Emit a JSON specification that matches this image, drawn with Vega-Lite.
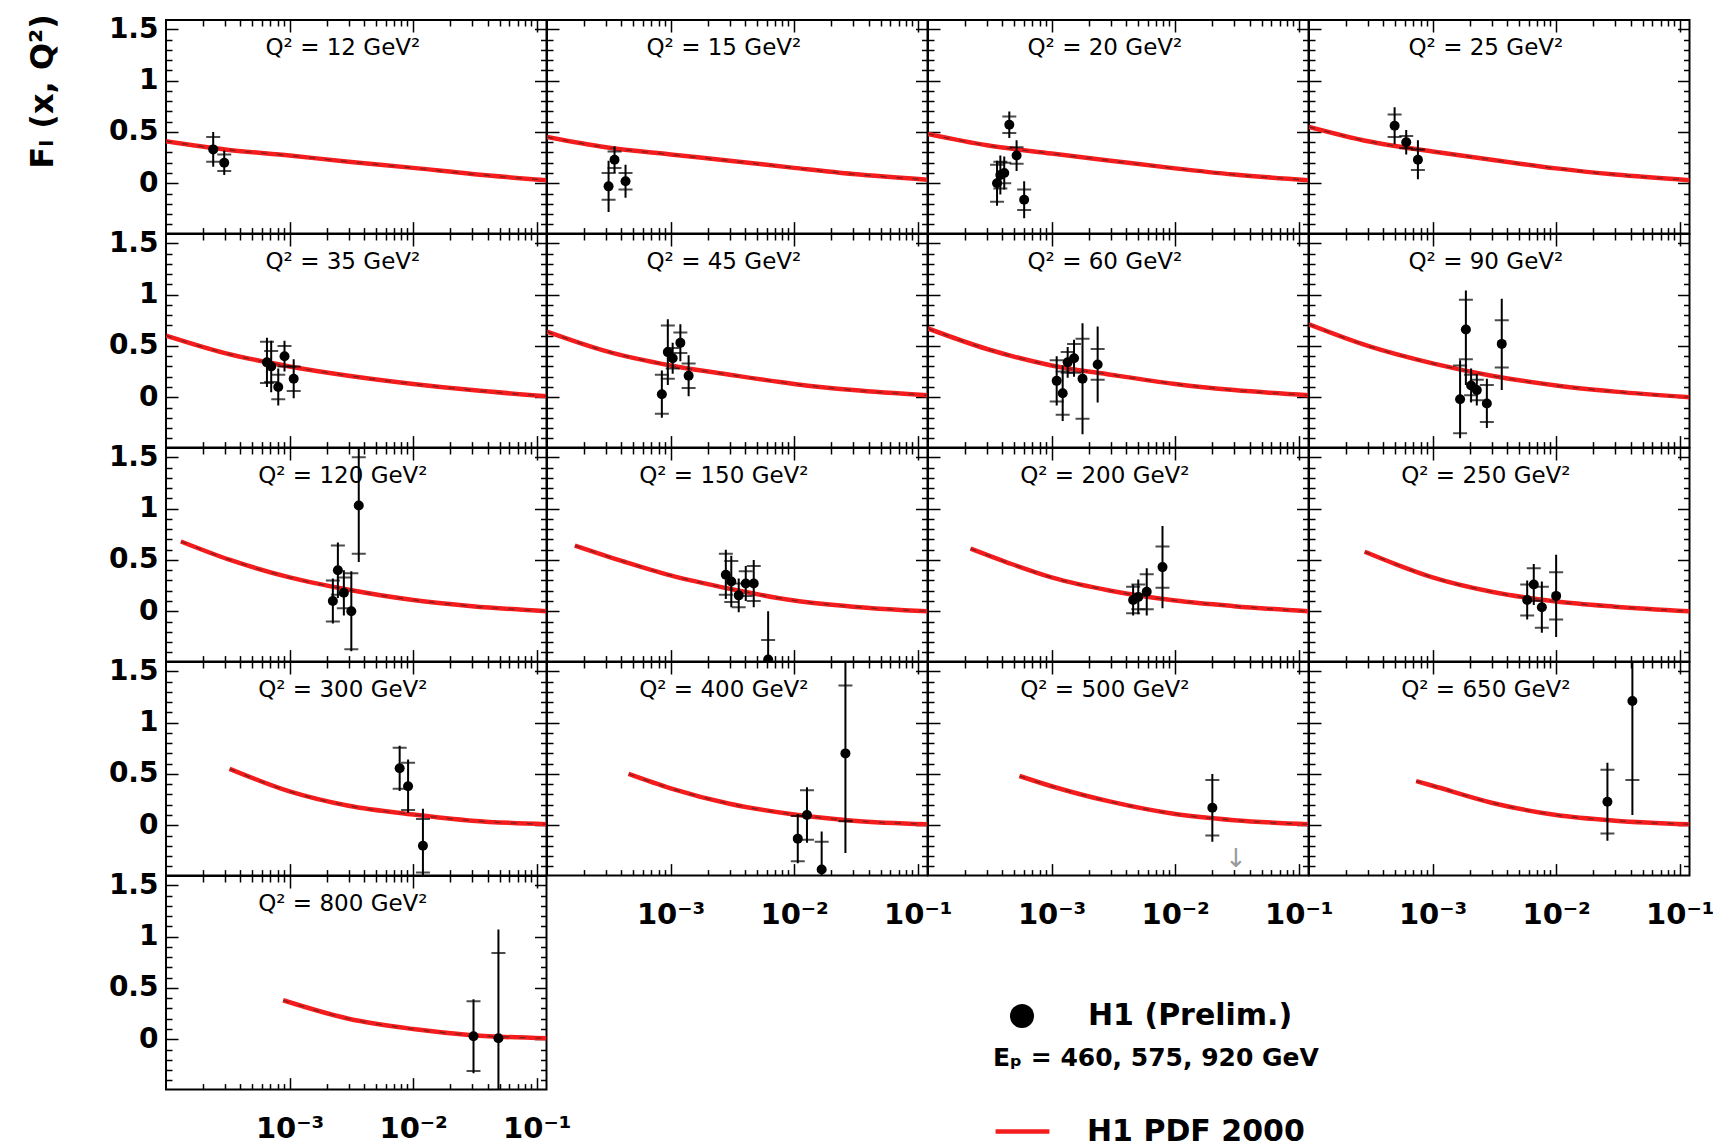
{
  "$schema": "https://vega.github.io/schema/vega-lite/v6.json",
  "background": "white",
  "padding": {"left": 27, "top": 14, "right": 5, "bottom": 0},
  "title": {"text": "Fₗ (x, Q²)", "orient": "left", "anchor": "end", "font": "DejaVu Sans", "fontWeight": "bold", "fontSize": 32, "color": "black", "offset": 47},
  "data": {"values": [
    {"q2":12,"k":"t","label":"Q² = 12 GeV²"},
    {"q2":15,"k":"t","label":"Q² = 15 GeV²"},
    {"q2":20,"k":"t","label":"Q² = 20 GeV²"},
    {"q2":25,"k":"t","label":"Q² = 25 GeV²"},
    {"q2":35,"k":"t","label":"Q² = 35 GeV²"},
    {"q2":45,"k":"t","label":"Q² = 45 GeV²"},
    {"q2":60,"k":"t","label":"Q² = 60 GeV²"},
    {"q2":90,"k":"t","label":"Q² = 90 GeV²"},
    {"q2":120,"k":"t","label":"Q² = 120 GeV²"},
    {"q2":150,"k":"t","label":"Q² = 150 GeV²"},
    {"q2":200,"k":"t","label":"Q² = 200 GeV²"},
    {"q2":250,"k":"t","label":"Q² = 250 GeV²"},
    {"q2":300,"k":"t","label":"Q² = 300 GeV²"},
    {"q2":400,"k":"t","label":"Q² = 400 GeV²"},
    {"q2":500,"k":"t","label":"Q² = 500 GeV²"},
    {"q2":650,"k":"t","label":"Q² = 650 GeV²"},
    {"q2":800,"k":"t","label":"Q² = 800 GeV²"},
    {"q2":500,"k":"a","x":0.031,"y":-0.33},

    {"q2":12,"k":"c","x":0.0001,"y":0.41},{"q2":12,"k":"c","x":0.0003,"y":0.33},{"q2":12,"k":"c","x":0.001,"y":0.27},{"q2":12,"k":"c","x":0.003,"y":0.21},{"q2":12,"k":"c","x":0.01,"y":0.15},{"q2":12,"k":"c","x":0.03,"y":0.09},{"q2":12,"k":"c","x":0.12,"y":0.03},
    {"q2":15,"k":"c","x":0.0001,"y":0.45},{"q2":15,"k":"c","x":0.0003,"y":0.35},{"q2":15,"k":"c","x":0.001,"y":0.28},{"q2":15,"k":"c","x":0.003,"y":0.22},{"q2":15,"k":"c","x":0.01,"y":0.15},{"q2":15,"k":"c","x":0.03,"y":0.09},{"q2":15,"k":"c","x":0.12,"y":0.035},
    {"q2":20,"k":"c","x":0.0001,"y":0.48},{"q2":20,"k":"c","x":0.0003,"y":0.37},{"q2":20,"k":"c","x":0.001,"y":0.29},{"q2":20,"k":"c","x":0.003,"y":0.22},{"q2":20,"k":"c","x":0.01,"y":0.145},{"q2":20,"k":"c","x":0.03,"y":0.085},{"q2":20,"k":"c","x":0.12,"y":0.03},
    {"q2":25,"k":"c","x":0.0001,"y":0.55},{"q2":25,"k":"c","x":0.0003,"y":0.41},{"q2":25,"k":"c","x":0.001,"y":0.31},{"q2":25,"k":"c","x":0.003,"y":0.23},{"q2":25,"k":"c","x":0.01,"y":0.145},{"q2":25,"k":"c","x":0.03,"y":0.085},{"q2":25,"k":"c","x":0.12,"y":0.03},
    {"q2":35,"k":"c","x":0.0001,"y":0.60},{"q2":35,"k":"c","x":0.0003,"y":0.43},{"q2":35,"k":"c","x":0.001,"y":0.30},{"q2":35,"k":"c","x":0.003,"y":0.21},{"q2":35,"k":"c","x":0.01,"y":0.13},{"q2":35,"k":"c","x":0.03,"y":0.07},{"q2":35,"k":"c","x":0.12,"y":0.01},
    {"q2":45,"k":"c","x":0.0001,"y":0.64},{"q2":45,"k":"c","x":0.0003,"y":0.45},{"q2":45,"k":"c","x":0.001,"y":0.31},{"q2":45,"k":"c","x":0.003,"y":0.22},{"q2":45,"k":"c","x":0.01,"y":0.13},{"q2":45,"k":"c","x":0.03,"y":0.07},{"q2":45,"k":"c","x":0.12,"y":0.02},
    {"q2":60,"k":"c","x":0.0001,"y":0.67},{"q2":60,"k":"c","x":0.0003,"y":0.47},{"q2":60,"k":"c","x":0.001,"y":0.31},{"q2":60,"k":"c","x":0.003,"y":0.22},{"q2":60,"k":"c","x":0.01,"y":0.13},{"q2":60,"k":"c","x":0.03,"y":0.07},{"q2":60,"k":"c","x":0.12,"y":0.02},
    {"q2":90,"k":"c","x":0.0001,"y":0.71},{"q2":90,"k":"c","x":0.0003,"y":0.50},{"q2":90,"k":"c","x":0.001,"y":0.33},{"q2":90,"k":"c","x":0.003,"y":0.21},{"q2":90,"k":"c","x":0.01,"y":0.115},{"q2":90,"k":"c","x":0.03,"y":0.055},{"q2":90,"k":"c","x":0.12,"y":0.0},
    {"q2":120,"k":"c","x":0.000132,"y":0.68},{"q2":120,"k":"c","x":0.00033,"y":0.50},{"q2":120,"k":"c","x":0.001,"y":0.33},{"q2":120,"k":"c","x":0.003,"y":0.21},{"q2":120,"k":"c","x":0.01,"y":0.11},{"q2":120,"k":"c","x":0.03,"y":0.05},{"q2":120,"k":"c","x":0.12,"y":0.0},
    {"q2":150,"k":"c","x":0.000168,"y":0.64},{"q2":150,"k":"c","x":0.00043,"y":0.48},{"q2":150,"k":"c","x":0.001,"y":0.35},{"q2":150,"k":"c","x":0.003,"y":0.22},{"q2":150,"k":"c","x":0.01,"y":0.105},{"q2":150,"k":"c","x":0.03,"y":0.045},{"q2":150,"k":"c","x":0.12,"y":0.0},
    {"q2":200,"k":"c","x":0.000221,"y":0.61},{"q2":200,"k":"c","x":0.00045,"y":0.47},{"q2":200,"k":"c","x":0.001,"y":0.33},{"q2":200,"k":"c","x":0.003,"y":0.20},{"q2":200,"k":"c","x":0.01,"y":0.105},{"q2":200,"k":"c","x":0.03,"y":0.05},{"q2":200,"k":"c","x":0.12,"y":0.0},
    {"q2":250,"k":"c","x":0.000282,"y":0.58},{"q2":250,"k":"c","x":0.0005,"y":0.46},{"q2":250,"k":"c","x":0.001,"y":0.33},{"q2":250,"k":"c","x":0.003,"y":0.19},{"q2":250,"k":"c","x":0.01,"y":0.095},{"q2":250,"k":"c","x":0.03,"y":0.045},{"q2":250,"k":"c","x":0.12,"y":0.0},
    {"q2":300,"k":"c","x":0.000327,"y":0.55},{"q2":300,"k":"c","x":0.001,"y":0.33},{"q2":300,"k":"c","x":0.003,"y":0.19},{"q2":300,"k":"c","x":0.01,"y":0.105},{"q2":300,"k":"c","x":0.03,"y":0.045},{"q2":300,"k":"c","x":0.12,"y":0.01},
    {"q2":400,"k":"c","x":0.000457,"y":0.50},{"q2":400,"k":"c","x":0.001,"y":0.36},{"q2":400,"k":"c","x":0.003,"y":0.21},{"q2":400,"k":"c","x":0.01,"y":0.105},{"q2":400,"k":"c","x":0.03,"y":0.045},{"q2":400,"k":"c","x":0.12,"y":0.01},
    {"q2":500,"k":"c","x":0.00055,"y":0.48},{"q2":500,"k":"c","x":0.001,"y":0.38},{"q2":500,"k":"c","x":0.003,"y":0.23},{"q2":500,"k":"c","x":0.01,"y":0.11},{"q2":500,"k":"c","x":0.03,"y":0.05},{"q2":500,"k":"c","x":0.12,"y":0.01},
    {"q2":650,"k":"c","x":0.000736,"y":0.43},{"q2":650,"k":"c","x":0.001,"y":0.385},{"q2":650,"k":"c","x":0.003,"y":0.22},{"q2":650,"k":"c","x":0.01,"y":0.10},{"q2":650,"k":"c","x":0.03,"y":0.045},{"q2":650,"k":"c","x":0.12,"y":0.01},
    {"q2":800,"k":"c","x":0.000887,"y":0.38},{"q2":800,"k":"c","x":0.003,"y":0.20},{"q2":800,"k":"c","x":0.01,"y":0.10},{"q2":800,"k":"c","x":0.03,"y":0.04},{"q2":800,"k":"c","x":0.12,"y":0.01},

    {"q2":12,"k":"p","x":0.000241,"y":0.33,"lo":0.16,"hi":0.50,"slo":0.21,"shi":0.45},
    {"q2":12,"k":"p","x":0.000296,"y":0.20,"lo":0.08,"hi":0.32,"slo":0.12,"shi":0.28},
    {"q2":15,"k":"p","x":0.000315,"y":-0.03,"lo":-0.28,"hi":0.22,"slo":-0.16,"shi":0.10},
    {"q2":15,"k":"p","x":0.000352,"y":0.23,"lo":0.10,"hi":0.36,"slo":0.15,"shi":0.31},
    {"q2":15,"k":"p","x":0.000432,"y":0.02,"lo":-0.14,"hi":0.18,"slo":-0.06,"shi":0.10},
    {"q2":20,"k":"p","x":0.000362,"y":0.0,"lo":-0.22,"hi":0.22,"slo":-0.18,"shi":0.18},
    {"q2":20,"k":"p","x":0.000385,"y":0.08,"lo":-0.11,"hi":0.27,"slo":-0.05,"shi":0.21},
    {"q2":20,"k":"p","x":0.000414,"y":0.10,"lo":-0.06,"hi":0.26,"slo":0.0,"shi":0.20},
    {"q2":20,"k":"p","x":0.000455,"y":0.57,"lo":0.44,"hi":0.70,"slo":0.49,"shi":0.65},
    {"q2":20,"k":"p","x":0.000521,"y":0.27,"lo":0.12,"hi":0.42,"slo":0.19,"shi":0.35},
    {"q2":20,"k":"p","x":0.0006,"y":-0.16,"lo":-0.34,"hi":0.02,"slo":-0.26,"shi":-0.06},
    {"q2":25,"k":"p","x":0.000493,"y":0.56,"lo":0.38,"hi":0.74,"slo":0.45,"shi":0.67},
    {"q2":25,"k":"p","x":0.000612,"y":0.40,"lo":0.28,"hi":0.52,"slo":0.34,"shi":0.46},
    {"q2":25,"k":"p","x":0.000761,"y":0.23,"lo":0.04,"hi":0.42,"slo":0.13,"shi":0.33},
    {"q2":35,"k":"p","x":0.000656,"y":0.34,"lo":0.10,"hi":0.58,"slo":0.14,"shi":0.54},
    {"q2":35,"k":"p","x":0.00071,"y":0.30,"lo":0.05,"hi":0.55,"slo":0.15,"shi":0.45},
    {"q2":35,"k":"p","x":0.00081,"y":0.10,"lo":-0.08,"hi":0.28,"slo":-0.02,"shi":0.22},
    {"q2":35,"k":"p","x":0.00091,"y":0.40,"lo":0.25,"hi":0.55,"slo":0.30,"shi":0.50},
    {"q2":35,"k":"p","x":0.00108,"y":0.18,"lo":-0.01,"hi":0.37,"slo":0.06,"shi":0.30},
    {"q2":45,"k":"p","x":0.00085,"y":0.03,"lo":-0.20,"hi":0.26,"slo":-0.16,"shi":0.22},
    {"q2":45,"k":"p","x":0.00095,"y":0.44,"lo":0.12,"hi":0.76,"slo":0.18,"shi":0.70},
    {"q2":45,"k":"p","x":0.00104,"y":0.38,"lo":0.23,"hi":0.53,"slo":0.28,"shi":0.48},
    {"q2":45,"k":"p","x":0.0012,"y":0.53,"lo":0.35,"hi":0.71,"slo":0.43,"shi":0.63},
    {"q2":45,"k":"p","x":0.0014,"y":0.21,"lo":0.01,"hi":0.41,"slo":0.09,"shi":0.33},
    {"q2":60,"k":"p","x":0.0011,"y":0.16,"lo":-0.08,"hi":0.40,"slo":-0.04,"shi":0.36},
    {"q2":60,"k":"p","x":0.00123,"y":0.04,"lo":-0.23,"hi":0.31,"slo":-0.17,"shi":0.25},
    {"q2":60,"k":"p","x":0.00135,"y":0.34,"lo":0.19,"hi":0.49,"slo":0.24,"shi":0.44},
    {"q2":60,"k":"p","x":0.00152,"y":0.38,"lo":0.20,"hi":0.56,"slo":0.24,"shi":0.52},
    {"q2":60,"k":"p","x":0.00178,"y":0.18,"lo":-0.36,"hi":0.72,"slo":-0.21,"shi":0.57},
    {"q2":60,"k":"p","x":0.00236,"y":0.32,"lo":-0.05,"hi":0.69,"slo":0.17,"shi":0.47},
    {"q2":90,"k":"p","x":0.00167,"y":-0.02,"lo":-0.40,"hi":0.36,"slo":-0.35,"shi":0.31},
    {"q2":90,"k":"p","x":0.00186,"y":0.66,"lo":0.12,"hi":1.04,"slo":0.37,"shi":0.95},
    {"q2":90,"k":"p","x":0.00205,"y":0.115,"lo":-0.05,"hi":0.28,"slo":0.02,"shi":0.22},
    {"q2":90,"k":"p","x":0.00228,"y":0.07,"lo":-0.08,"hi":0.22,"slo":-0.03,"shi":0.17},
    {"q2":90,"k":"p","x":0.00275,"y":-0.06,"lo":-0.30,"hi":0.18,"slo":-0.24,"shi":0.12},
    {"q2":90,"k":"p","x":0.00363,"y":0.52,"lo":0.07,"hi":0.96,"slo":0.29,"shi":0.75},
    {"q2":120,"k":"p","x":0.00224,"y":0.10,"lo":-0.12,"hi":0.32,"slo":-0.10,"shi":0.30},
    {"q2":120,"k":"p","x":0.00246,"y":0.40,"lo":0.13,"hi":0.67,"slo":0.16,"shi":0.64},
    {"q2":120,"k":"p","x":0.00275,"y":0.18,"lo":-0.04,"hi":0.40,"slo":0.03,"shi":0.33},
    {"q2":120,"k":"p","x":0.00316,"y":0.0,"lo":-0.39,"hi":0.39,"slo":-0.37,"shi":0.37},
    {"q2":120,"k":"p","x":0.00363,"y":1.03,"lo":0.48,"hi":1.58,"slo":0.56,"shi":1.50},
    {"q2":150,"k":"p","x":0.0028,"y":0.355,"lo":0.12,"hi":0.60,"slo":0.16,"shi":0.56},
    {"q2":150,"k":"p","x":0.0031,"y":0.29,"lo":0.04,"hi":0.54,"slo":0.09,"shi":0.49},
    {"q2":150,"k":"p","x":0.00356,"y":0.155,"lo":-0.01,"hi":0.32,"slo":0.04,"shi":0.27},
    {"q2":150,"k":"p","x":0.00406,"y":0.27,"lo":0.10,"hi":0.44,"slo":0.15,"shi":0.39},
    {"q2":150,"k":"p","x":0.00471,"y":0.27,"lo":0.04,"hi":0.50,"slo":0.10,"shi":0.44},
    {"q2":150,"k":"p","x":0.00616,"y":-0.47,"lo":-0.94,"hi":0.0,"slo":-0.66,"shi":-0.28},
    {"q2":200,"k":"p","x":0.00457,"y":0.11,"lo":-0.04,"hi":0.26,"slo":-0.02,"shi":0.24},
    {"q2":200,"k":"p","x":0.00503,"y":0.14,"lo":-0.03,"hi":0.31,"slo":0.02,"shi":0.26},
    {"q2":200,"k":"p","x":0.00589,"y":0.19,"lo":-0.04,"hi":0.42,"slo":0.02,"shi":0.36},
    {"q2":200,"k":"p","x":0.0079,"y":0.43,"lo":0.03,"hi":0.83,"slo":0.23,"shi":0.63},
    {"q2":250,"k":"p","x":0.00583,"y":0.11,"lo":-0.08,"hi":0.30,"slo":-0.04,"shi":0.26},
    {"q2":250,"k":"p","x":0.00659,"y":0.26,"lo":0.06,"hi":0.46,"slo":0.10,"shi":0.42},
    {"q2":250,"k":"p","x":0.00766,"y":0.04,"lo":-0.21,"hi":0.29,"slo":-0.16,"shi":0.24},
    {"q2":250,"k":"p","x":0.01,"y":0.15,"lo":-0.25,"hi":0.55,"slo":-0.08,"shi":0.38},
    {"q2":300,"k":"p","x":0.00778,"y":0.555,"lo":0.335,"hi":0.775,"slo":0.355,"shi":0.755},
    {"q2":300,"k":"p","x":0.0091,"y":0.38,"lo":0.12,"hi":0.64,"slo":0.15,"shi":0.61},
    {"q2":300,"k":"p","x":0.012,"y":-0.20,"lo":-0.56,"hi":0.16,"slo":-0.46,"shi":0.06},
    {"q2":400,"k":"p","x":0.0107,"y":-0.13,"lo":-0.37,"hi":0.11,"slo":-0.35,"shi":0.09},
    {"q2":400,"k":"p","x":0.0127,"y":0.10,"lo":-0.17,"hi":0.37,"slo":-0.14,"shi":0.34},
    {"q2":400,"k":"p","x":0.0167,"y":-0.43,"lo":-0.80,"hi":-0.06,"slo":-0.70,"shi":-0.16},
    {"q2":400,"k":"p","x":0.026,"y":0.70,"lo":-0.27,"hi":1.67,"slo":0.04,"shi":1.36},
    {"q2":500,"k":"p","x":0.02,"y":0.17,"lo":-0.16,"hi":0.50,"slo":-0.10,"shi":0.44},
    {"q2":650,"k":"p","x":0.026,"y":0.23,"lo":-0.15,"hi":0.61,"slo":-0.08,"shi":0.54},
    {"q2":650,"k":"p","x":0.0414,"y":1.21,"lo":0.10,"hi":2.3,"slo":0.44,"shi":1.98},
    {"q2":800,"k":"p","x":0.0308,"y":0.03,"lo":-0.33,"hi":0.39,"slo":-0.31,"shi":0.37},
    {"q2":800,"k":"p","x":0.049,"y":0.01,"lo":-1.05,"hi":1.07,"slo":-0.82,"shi":0.84}
  ]},
  "columns": 4,
  "spacing": 0,
  "bounds": "flush",
  "concat": [
    {"width":380.5,"height":213.6,"transform":[{"filter":"datum.q2===12"}],"resolve":{"axis":{"x":"independent","y":"independent"}},"layer":[
      {"transform":[{"filter":"datum.k==='c'"}],"mark":{"type":"line","color":"#f41c1c","strokeWidth":4.5,"interpolate":"monotone","clip":true},
       "encoding":{"x":{"field":"x","type":"quantitative","scale":{"type":"log","domain":[0.0001,0.12],"nice":false},"axis":{"orient":"bottom","title":null,"labels":false,"values":[0.0002,0.0003,0.0004,0.0005,0.0006,0.0007,0.0008,0.0009,0.001,0.002,0.003,0.004,0.005,0.006,0.007,0.008,0.009,0.01,0.02,0.03,0.04,0.05,0.06,0.07,0.08,0.09,0.1],"tickSize":{"condition":{"test":"datum.value == 0.001 || datum.value == 0.01 || datum.value == 0.1","value":-12},"value":-6}}},
        "y":{"field":"y","type":"quantitative","scale":{"domain":[-0.49,1.59],"nice":false,"zero":false},"axis":{"orient":"left","title":null,"values":[-0.4,-0.3,-0.2,-0.1,0,0.1,0.2,0.3,0.4,0.5,0.6,0.7,0.8,0.9,1,1.1,1.2,1.3,1.4,1.5],"tickSize":{"condition":{"test":"datum.value == 0 || datum.value == 0.5 || datum.value == 1 || datum.value == 1.5","value":-12},"value":-6},"labelExpr":"datum.value == 0 ? '0' : datum.value == 0.5 ? '0.5' : datum.value == 1 ? '1' : datum.value == 1.5 ? '1.5' : ''","labelFontSize":28,"labelPadding":20}}}},
      {"transform":[{"filter":"datum.k==='c'"}],"mark":{"type":"line","color":"#222222","strokeWidth":1.2,"strokeDash":[6,10],"opacity":0.6,"interpolate":"monotone","clip":true},
       "encoding":{"x":{"field":"x","type":"quantitative","axis":{"orient":"top","title":null,"labels":false,"values":[0.0002,0.0003,0.0004,0.0005,0.0006,0.0007,0.0008,0.0009,0.001,0.002,0.003,0.004,0.005,0.006,0.007,0.008,0.009,0.01,0.02,0.03,0.04,0.05,0.06,0.07,0.08,0.09,0.1],"tickSize":{"condition":{"test":"datum.value == 0.001 || datum.value == 0.01 || datum.value == 0.1","value":-12},"value":-6}}},
        "y":{"field":"y","type":"quantitative","axis":{"orient":"right","title":null,"labels":false,"values":[-0.4,-0.3,-0.2,-0.1,0,0.1,0.2,0.3,0.4,0.5,0.6,0.7,0.8,0.9,1,1.1,1.2,1.3,1.4,1.5],"tickSize":{"condition":{"test":"datum.value == 0 || datum.value == 0.5 || datum.value == 1 || datum.value == 1.5","value":-12},"value":-6}}}}},
      {"transform":[{"filter":"datum.k==='p'"}],"mark":{"type":"rule","color":"black","strokeWidth":2,"clip":true},"encoding":{"x":{"field":"x","type":"quantitative","axis":null},"y":{"field":"lo","type":"quantitative","axis":null},"y2":{"field":"hi"}}},
      {"transform":[{"filter":"datum.k==='p'"}],"mark":{"type":"tick","orient":"horizontal","color":"black","size":14,"thickness":2,"clip":true},"encoding":{"x":{"field":"x","type":"quantitative","axis":null},"y":{"field":"slo","type":"quantitative","axis":null}}},
      {"transform":[{"filter":"datum.k==='p'"}],"mark":{"type":"tick","orient":"horizontal","color":"black","size":14,"thickness":2,"clip":true},"encoding":{"x":{"field":"x","type":"quantitative","axis":null},"y":{"field":"shi","type":"quantitative","axis":null}}},
      {"transform":[{"filter":"datum.k==='p'"}],"mark":{"type":"circle","size":100,"opacity":1,"color":"black","clip":true},"encoding":{"x":{"field":"x","type":"quantitative","axis":null},"y":{"field":"y","type":"quantitative","axis":null}}},
      {"transform":[{"filter":"datum.k==='t'"}],"mark":{"type":"text","font":"DejaVu Sans","fontSize":23,"color":"black","align":"center","baseline":"alphabetic"},"encoding":{"x":{"datum":0.0027,"type":"quantitative","axis":null},"y":{"datum":1.25,"type":"quantitative","axis":null},"text":{"field":"label","type":"nominal"}}}
    ]},
    {"width":380.5,"height":213.6,"transform":[{"filter":"datum.q2===15"}],"resolve":{"axis":{"x":"independent","y":"independent"}},"layer":[
      {"transform":[{"filter":"datum.k==='c'"}],"mark":{"type":"line","color":"#f41c1c","strokeWidth":4.5,"interpolate":"monotone","clip":true},
       "encoding":{"x":{"field":"x","type":"quantitative","scale":{"type":"log","domain":[0.0001,0.12],"nice":false},"axis":{"orient":"bottom","title":null,"labels":false,"values":[0.0002,0.0003,0.0004,0.0005,0.0006,0.0007,0.0008,0.0009,0.001,0.002,0.003,0.004,0.005,0.006,0.007,0.008,0.009,0.01,0.02,0.03,0.04,0.05,0.06,0.07,0.08,0.09,0.1],"tickSize":{"condition":{"test":"datum.value == 0.001 || datum.value == 0.01 || datum.value == 0.1","value":-12},"value":-6}}},
        "y":{"field":"y","type":"quantitative","scale":{"domain":[-0.49,1.59],"nice":false,"zero":false},"axis":{"orient":"left","title":null,"labels":false,"values":[-0.4,-0.3,-0.2,-0.1,0,0.1,0.2,0.3,0.4,0.5,0.6,0.7,0.8,0.9,1,1.1,1.2,1.3,1.4,1.5],"tickSize":{"condition":{"test":"datum.value == 0 || datum.value == 0.5 || datum.value == 1 || datum.value == 1.5","value":-12},"value":-6}}}}},
      {"transform":[{"filter":"datum.k==='c'"}],"mark":{"type":"line","color":"#222222","strokeWidth":1.2,"strokeDash":[6,10],"opacity":0.6,"interpolate":"monotone","clip":true},
       "encoding":{"x":{"field":"x","type":"quantitative","axis":{"orient":"top","title":null,"labels":false,"values":[0.0002,0.0003,0.0004,0.0005,0.0006,0.0007,0.0008,0.0009,0.001,0.002,0.003,0.004,0.005,0.006,0.007,0.008,0.009,0.01,0.02,0.03,0.04,0.05,0.06,0.07,0.08,0.09,0.1],"tickSize":{"condition":{"test":"datum.value == 0.001 || datum.value == 0.01 || datum.value == 0.1","value":-12},"value":-6}}},
        "y":{"field":"y","type":"quantitative","axis":{"orient":"right","title":null,"labels":false,"values":[-0.4,-0.3,-0.2,-0.1,0,0.1,0.2,0.3,0.4,0.5,0.6,0.7,0.8,0.9,1,1.1,1.2,1.3,1.4,1.5],"tickSize":{"condition":{"test":"datum.value == 0 || datum.value == 0.5 || datum.value == 1 || datum.value == 1.5","value":-12},"value":-6}}}}},
      {"transform":[{"filter":"datum.k==='p'"}],"mark":{"type":"rule","color":"black","strokeWidth":2,"clip":true},"encoding":{"x":{"field":"x","type":"quantitative","axis":null},"y":{"field":"lo","type":"quantitative","axis":null},"y2":{"field":"hi"}}},
      {"transform":[{"filter":"datum.k==='p'"}],"mark":{"type":"tick","orient":"horizontal","color":"black","size":14,"thickness":2,"clip":true},"encoding":{"x":{"field":"x","type":"quantitative","axis":null},"y":{"field":"slo","type":"quantitative","axis":null}}},
      {"transform":[{"filter":"datum.k==='p'"}],"mark":{"type":"tick","orient":"horizontal","color":"black","size":14,"thickness":2,"clip":true},"encoding":{"x":{"field":"x","type":"quantitative","axis":null},"y":{"field":"shi","type":"quantitative","axis":null}}},
      {"transform":[{"filter":"datum.k==='p'"}],"mark":{"type":"circle","size":100,"opacity":1,"color":"black","clip":true},"encoding":{"x":{"field":"x","type":"quantitative","axis":null},"y":{"field":"y","type":"quantitative","axis":null}}},
      {"transform":[{"filter":"datum.k==='t'"}],"mark":{"type":"text","font":"DejaVu Sans","fontSize":23,"color":"black","align":"center","baseline":"alphabetic"},"encoding":{"x":{"datum":0.0027,"type":"quantitative","axis":null},"y":{"datum":1.25,"type":"quantitative","axis":null},"text":{"field":"label","type":"nominal"}}}
    ]},
    {"width":380.5,"height":213.6,"transform":[{"filter":"datum.q2===20"}],"resolve":{"axis":{"x":"independent","y":"independent"}},"layer":[
      {"transform":[{"filter":"datum.k==='c'"}],"mark":{"type":"line","color":"#f41c1c","strokeWidth":4.5,"interpolate":"monotone","clip":true},
       "encoding":{"x":{"field":"x","type":"quantitative","scale":{"type":"log","domain":[0.0001,0.12],"nice":false},"axis":{"orient":"bottom","title":null,"labels":false,"values":[0.0002,0.0003,0.0004,0.0005,0.0006,0.0007,0.0008,0.0009,0.001,0.002,0.003,0.004,0.005,0.006,0.007,0.008,0.009,0.01,0.02,0.03,0.04,0.05,0.06,0.07,0.08,0.09,0.1],"tickSize":{"condition":{"test":"datum.value == 0.001 || datum.value == 0.01 || datum.value == 0.1","value":-12},"value":-6}}},
        "y":{"field":"y","type":"quantitative","scale":{"domain":[-0.49,1.59],"nice":false,"zero":false},"axis":{"orient":"left","title":null,"labels":false,"values":[-0.4,-0.3,-0.2,-0.1,0,0.1,0.2,0.3,0.4,0.5,0.6,0.7,0.8,0.9,1,1.1,1.2,1.3,1.4,1.5],"tickSize":{"condition":{"test":"datum.value == 0 || datum.value == 0.5 || datum.value == 1 || datum.value == 1.5","value":-12},"value":-6}}}}},
      {"transform":[{"filter":"datum.k==='c'"}],"mark":{"type":"line","color":"#222222","strokeWidth":1.2,"strokeDash":[6,10],"opacity":0.6,"interpolate":"monotone","clip":true},
       "encoding":{"x":{"field":"x","type":"quantitative","axis":{"orient":"top","title":null,"labels":false,"values":[0.0002,0.0003,0.0004,0.0005,0.0006,0.0007,0.0008,0.0009,0.001,0.002,0.003,0.004,0.005,0.006,0.007,0.008,0.009,0.01,0.02,0.03,0.04,0.05,0.06,0.07,0.08,0.09,0.1],"tickSize":{"condition":{"test":"datum.value == 0.001 || datum.value == 0.01 || datum.value == 0.1","value":-12},"value":-6}}},
        "y":{"field":"y","type":"quantitative","axis":{"orient":"right","title":null,"labels":false,"values":[-0.4,-0.3,-0.2,-0.1,0,0.1,0.2,0.3,0.4,0.5,0.6,0.7,0.8,0.9,1,1.1,1.2,1.3,1.4,1.5],"tickSize":{"condition":{"test":"datum.value == 0 || datum.value == 0.5 || datum.value == 1 || datum.value == 1.5","value":-12},"value":-6}}}}},
      {"transform":[{"filter":"datum.k==='p'"}],"mark":{"type":"rule","color":"black","strokeWidth":2,"clip":true},"encoding":{"x":{"field":"x","type":"quantitative","axis":null},"y":{"field":"lo","type":"quantitative","axis":null},"y2":{"field":"hi"}}},
      {"transform":[{"filter":"datum.k==='p'"}],"mark":{"type":"tick","orient":"horizontal","color":"black","size":14,"thickness":2,"clip":true},"encoding":{"x":{"field":"x","type":"quantitative","axis":null},"y":{"field":"slo","type":"quantitative","axis":null}}},
      {"transform":[{"filter":"datum.k==='p'"}],"mark":{"type":"tick","orient":"horizontal","color":"black","size":14,"thickness":2,"clip":true},"encoding":{"x":{"field":"x","type":"quantitative","axis":null},"y":{"field":"shi","type":"quantitative","axis":null}}},
      {"transform":[{"filter":"datum.k==='p'"}],"mark":{"type":"circle","size":100,"opacity":1,"color":"black","clip":true},"encoding":{"x":{"field":"x","type":"quantitative","axis":null},"y":{"field":"y","type":"quantitative","axis":null}}},
      {"transform":[{"filter":"datum.k==='t'"}],"mark":{"type":"text","font":"DejaVu Sans","fontSize":23,"color":"black","align":"center","baseline":"alphabetic"},"encoding":{"x":{"datum":0.0027,"type":"quantitative","axis":null},"y":{"datum":1.25,"type":"quantitative","axis":null},"text":{"field":"label","type":"nominal"}}}
    ]},
    {"width":380.5,"height":213.6,"transform":[{"filter":"datum.q2===25"}],"resolve":{"axis":{"x":"independent","y":"independent"}},"layer":[
      {"transform":[{"filter":"datum.k==='c'"}],"mark":{"type":"line","color":"#f41c1c","strokeWidth":4.5,"interpolate":"monotone","clip":true},
       "encoding":{"x":{"field":"x","type":"quantitative","scale":{"type":"log","domain":[0.0001,0.12],"nice":false},"axis":{"orient":"bottom","title":null,"labels":false,"values":[0.0002,0.0003,0.0004,0.0005,0.0006,0.0007,0.0008,0.0009,0.001,0.002,0.003,0.004,0.005,0.006,0.007,0.008,0.009,0.01,0.02,0.03,0.04,0.05,0.06,0.07,0.08,0.09,0.1],"tickSize":{"condition":{"test":"datum.value == 0.001 || datum.value == 0.01 || datum.value == 0.1","value":-12},"value":-6}}},
        "y":{"field":"y","type":"quantitative","scale":{"domain":[-0.49,1.59],"nice":false,"zero":false},"axis":{"orient":"left","title":null,"labels":false,"values":[-0.4,-0.3,-0.2,-0.1,0,0.1,0.2,0.3,0.4,0.5,0.6,0.7,0.8,0.9,1,1.1,1.2,1.3,1.4,1.5],"tickSize":{"condition":{"test":"datum.value == 0 || datum.value == 0.5 || datum.value == 1 || datum.value == 1.5","value":-12},"value":-6}}}}},
      {"transform":[{"filter":"datum.k==='c'"}],"mark":{"type":"line","color":"#222222","strokeWidth":1.2,"strokeDash":[6,10],"opacity":0.6,"interpolate":"monotone","clip":true},
       "encoding":{"x":{"field":"x","type":"quantitative","axis":{"orient":"top","title":null,"labels":false,"values":[0.0002,0.0003,0.0004,0.0005,0.0006,0.0007,0.0008,0.0009,0.001,0.002,0.003,0.004,0.005,0.006,0.007,0.008,0.009,0.01,0.02,0.03,0.04,0.05,0.06,0.07,0.08,0.09,0.1],"tickSize":{"condition":{"test":"datum.value == 0.001 || datum.value == 0.01 || datum.value == 0.1","value":-12},"value":-6}}},
        "y":{"field":"y","type":"quantitative","axis":{"orient":"right","title":null,"labels":false,"values":[-0.4,-0.3,-0.2,-0.1,0,0.1,0.2,0.3,0.4,0.5,0.6,0.7,0.8,0.9,1,1.1,1.2,1.3,1.4,1.5],"tickSize":{"condition":{"test":"datum.value == 0 || datum.value == 0.5 || datum.value == 1 || datum.value == 1.5","value":-12},"value":-6}}}}},
      {"transform":[{"filter":"datum.k==='p'"}],"mark":{"type":"rule","color":"black","strokeWidth":2,"clip":true},"encoding":{"x":{"field":"x","type":"quantitative","axis":null},"y":{"field":"lo","type":"quantitative","axis":null},"y2":{"field":"hi"}}},
      {"transform":[{"filter":"datum.k==='p'"}],"mark":{"type":"tick","orient":"horizontal","color":"black","size":14,"thickness":2,"clip":true},"encoding":{"x":{"field":"x","type":"quantitative","axis":null},"y":{"field":"slo","type":"quantitative","axis":null}}},
      {"transform":[{"filter":"datum.k==='p'"}],"mark":{"type":"tick","orient":"horizontal","color":"black","size":14,"thickness":2,"clip":true},"encoding":{"x":{"field":"x","type":"quantitative","axis":null},"y":{"field":"shi","type":"quantitative","axis":null}}},
      {"transform":[{"filter":"datum.k==='p'"}],"mark":{"type":"circle","size":100,"opacity":1,"color":"black","clip":true},"encoding":{"x":{"field":"x","type":"quantitative","axis":null},"y":{"field":"y","type":"quantitative","axis":null}}},
      {"transform":[{"filter":"datum.k==='t'"}],"mark":{"type":"text","font":"DejaVu Sans","fontSize":23,"color":"black","align":"center","baseline":"alphabetic"},"encoding":{"x":{"datum":0.0027,"type":"quantitative","axis":null},"y":{"datum":1.25,"type":"quantitative","axis":null},"text":{"field":"label","type":"nominal"}}}
    ]},
    {"width":380.5,"height":213.6,"transform":[{"filter":"datum.q2===35"}],"resolve":{"axis":{"x":"independent","y":"independent"}},"layer":[
      {"transform":[{"filter":"datum.k==='c'"}],"mark":{"type":"line","color":"#f41c1c","strokeWidth":4.5,"interpolate":"monotone","clip":true},
       "encoding":{"x":{"field":"x","type":"quantitative","scale":{"type":"log","domain":[0.0001,0.12],"nice":false},"axis":{"orient":"bottom","title":null,"labels":false,"values":[0.0002,0.0003,0.0004,0.0005,0.0006,0.0007,0.0008,0.0009,0.001,0.002,0.003,0.004,0.005,0.006,0.007,0.008,0.009,0.01,0.02,0.03,0.04,0.05,0.06,0.07,0.08,0.09,0.1],"tickSize":{"condition":{"test":"datum.value == 0.001 || datum.value == 0.01 || datum.value == 0.1","value":-12},"value":-6}}},
        "y":{"field":"y","type":"quantitative","scale":{"domain":[-0.49,1.59],"nice":false,"zero":false},"axis":{"orient":"left","title":null,"values":[-0.4,-0.3,-0.2,-0.1,0,0.1,0.2,0.3,0.4,0.5,0.6,0.7,0.8,0.9,1,1.1,1.2,1.3,1.4,1.5],"tickSize":{"condition":{"test":"datum.value == 0 || datum.value == 0.5 || datum.value == 1 || datum.value == 1.5","value":-12},"value":-6},"labelExpr":"datum.value == 0 ? '0' : datum.value == 0.5 ? '0.5' : datum.value == 1 ? '1' : datum.value == 1.5 ? '1.5' : ''","labelFontSize":28,"labelPadding":20}}}},
      {"transform":[{"filter":"datum.k==='c'"}],"mark":{"type":"line","color":"#222222","strokeWidth":1.2,"strokeDash":[6,10],"opacity":0.6,"interpolate":"monotone","clip":true},
       "encoding":{"x":{"field":"x","type":"quantitative","axis":{"orient":"top","title":null,"labels":false,"values":[0.0002,0.0003,0.0004,0.0005,0.0006,0.0007,0.0008,0.0009,0.001,0.002,0.003,0.004,0.005,0.006,0.007,0.008,0.009,0.01,0.02,0.03,0.04,0.05,0.06,0.07,0.08,0.09,0.1],"tickSize":{"condition":{"test":"datum.value == 0.001 || datum.value == 0.01 || datum.value == 0.1","value":-12},"value":-6}}},
        "y":{"field":"y","type":"quantitative","axis":{"orient":"right","title":null,"labels":false,"values":[-0.4,-0.3,-0.2,-0.1,0,0.1,0.2,0.3,0.4,0.5,0.6,0.7,0.8,0.9,1,1.1,1.2,1.3,1.4,1.5],"tickSize":{"condition":{"test":"datum.value == 0 || datum.value == 0.5 || datum.value == 1 || datum.value == 1.5","value":-12},"value":-6}}}}},
      {"transform":[{"filter":"datum.k==='p'"}],"mark":{"type":"rule","color":"black","strokeWidth":2,"clip":true},"encoding":{"x":{"field":"x","type":"quantitative","axis":null},"y":{"field":"lo","type":"quantitative","axis":null},"y2":{"field":"hi"}}},
      {"transform":[{"filter":"datum.k==='p'"}],"mark":{"type":"tick","orient":"horizontal","color":"black","size":14,"thickness":2,"clip":true},"encoding":{"x":{"field":"x","type":"quantitative","axis":null},"y":{"field":"slo","type":"quantitative","axis":null}}},
      {"transform":[{"filter":"datum.k==='p'"}],"mark":{"type":"tick","orient":"horizontal","color":"black","size":14,"thickness":2,"clip":true},"encoding":{"x":{"field":"x","type":"quantitative","axis":null},"y":{"field":"shi","type":"quantitative","axis":null}}},
      {"transform":[{"filter":"datum.k==='p'"}],"mark":{"type":"circle","size":100,"opacity":1,"color":"black","clip":true},"encoding":{"x":{"field":"x","type":"quantitative","axis":null},"y":{"field":"y","type":"quantitative","axis":null}}},
      {"transform":[{"filter":"datum.k==='t'"}],"mark":{"type":"text","font":"DejaVu Sans","fontSize":23,"color":"black","align":"center","baseline":"alphabetic"},"encoding":{"x":{"datum":0.0027,"type":"quantitative","axis":null},"y":{"datum":1.25,"type":"quantitative","axis":null},"text":{"field":"label","type":"nominal"}}}
    ]},
    {"width":380.5,"height":213.6,"transform":[{"filter":"datum.q2===45"}],"resolve":{"axis":{"x":"independent","y":"independent"}},"layer":[
      {"transform":[{"filter":"datum.k==='c'"}],"mark":{"type":"line","color":"#f41c1c","strokeWidth":4.5,"interpolate":"monotone","clip":true},
       "encoding":{"x":{"field":"x","type":"quantitative","scale":{"type":"log","domain":[0.0001,0.12],"nice":false},"axis":{"orient":"bottom","title":null,"labels":false,"values":[0.0002,0.0003,0.0004,0.0005,0.0006,0.0007,0.0008,0.0009,0.001,0.002,0.003,0.004,0.005,0.006,0.007,0.008,0.009,0.01,0.02,0.03,0.04,0.05,0.06,0.07,0.08,0.09,0.1],"tickSize":{"condition":{"test":"datum.value == 0.001 || datum.value == 0.01 || datum.value == 0.1","value":-12},"value":-6}}},
        "y":{"field":"y","type":"quantitative","scale":{"domain":[-0.49,1.59],"nice":false,"zero":false},"axis":{"orient":"left","title":null,"labels":false,"values":[-0.4,-0.3,-0.2,-0.1,0,0.1,0.2,0.3,0.4,0.5,0.6,0.7,0.8,0.9,1,1.1,1.2,1.3,1.4,1.5],"tickSize":{"condition":{"test":"datum.value == 0 || datum.value == 0.5 || datum.value == 1 || datum.value == 1.5","value":-12},"value":-6}}}}},
      {"transform":[{"filter":"datum.k==='c'"}],"mark":{"type":"line","color":"#222222","strokeWidth":1.2,"strokeDash":[6,10],"opacity":0.6,"interpolate":"monotone","clip":true},
       "encoding":{"x":{"field":"x","type":"quantitative","axis":{"orient":"top","title":null,"labels":false,"values":[0.0002,0.0003,0.0004,0.0005,0.0006,0.0007,0.0008,0.0009,0.001,0.002,0.003,0.004,0.005,0.006,0.007,0.008,0.009,0.01,0.02,0.03,0.04,0.05,0.06,0.07,0.08,0.09,0.1],"tickSize":{"condition":{"test":"datum.value == 0.001 || datum.value == 0.01 || datum.value == 0.1","value":-12},"value":-6}}},
        "y":{"field":"y","type":"quantitative","axis":{"orient":"right","title":null,"labels":false,"values":[-0.4,-0.3,-0.2,-0.1,0,0.1,0.2,0.3,0.4,0.5,0.6,0.7,0.8,0.9,1,1.1,1.2,1.3,1.4,1.5],"tickSize":{"condition":{"test":"datum.value == 0 || datum.value == 0.5 || datum.value == 1 || datum.value == 1.5","value":-12},"value":-6}}}}},
      {"transform":[{"filter":"datum.k==='p'"}],"mark":{"type":"rule","color":"black","strokeWidth":2,"clip":true},"encoding":{"x":{"field":"x","type":"quantitative","axis":null},"y":{"field":"lo","type":"quantitative","axis":null},"y2":{"field":"hi"}}},
      {"transform":[{"filter":"datum.k==='p'"}],"mark":{"type":"tick","orient":"horizontal","color":"black","size":14,"thickness":2,"clip":true},"encoding":{"x":{"field":"x","type":"quantitative","axis":null},"y":{"field":"slo","type":"quantitative","axis":null}}},
      {"transform":[{"filter":"datum.k==='p'"}],"mark":{"type":"tick","orient":"horizontal","color":"black","size":14,"thickness":2,"clip":true},"encoding":{"x":{"field":"x","type":"quantitative","axis":null},"y":{"field":"shi","type":"quantitative","axis":null}}},
      {"transform":[{"filter":"datum.k==='p'"}],"mark":{"type":"circle","size":100,"opacity":1,"color":"black","clip":true},"encoding":{"x":{"field":"x","type":"quantitative","axis":null},"y":{"field":"y","type":"quantitative","axis":null}}},
      {"transform":[{"filter":"datum.k==='t'"}],"mark":{"type":"text","font":"DejaVu Sans","fontSize":23,"color":"black","align":"center","baseline":"alphabetic"},"encoding":{"x":{"datum":0.0027,"type":"quantitative","axis":null},"y":{"datum":1.25,"type":"quantitative","axis":null},"text":{"field":"label","type":"nominal"}}}
    ]},
    {"width":380.5,"height":213.6,"transform":[{"filter":"datum.q2===60"}],"resolve":{"axis":{"x":"independent","y":"independent"}},"layer":[
      {"transform":[{"filter":"datum.k==='c'"}],"mark":{"type":"line","color":"#f41c1c","strokeWidth":4.5,"interpolate":"monotone","clip":true},
       "encoding":{"x":{"field":"x","type":"quantitative","scale":{"type":"log","domain":[0.0001,0.12],"nice":false},"axis":{"orient":"bottom","title":null,"labels":false,"values":[0.0002,0.0003,0.0004,0.0005,0.0006,0.0007,0.0008,0.0009,0.001,0.002,0.003,0.004,0.005,0.006,0.007,0.008,0.009,0.01,0.02,0.03,0.04,0.05,0.06,0.07,0.08,0.09,0.1],"tickSize":{"condition":{"test":"datum.value == 0.001 || datum.value == 0.01 || datum.value == 0.1","value":-12},"value":-6}}},
        "y":{"field":"y","type":"quantitative","scale":{"domain":[-0.49,1.59],"nice":false,"zero":false},"axis":{"orient":"left","title":null,"labels":false,"values":[-0.4,-0.3,-0.2,-0.1,0,0.1,0.2,0.3,0.4,0.5,0.6,0.7,0.8,0.9,1,1.1,1.2,1.3,1.4,1.5],"tickSize":{"condition":{"test":"datum.value == 0 || datum.value == 0.5 || datum.value == 1 || datum.value == 1.5","value":-12},"value":-6}}}}},
      {"transform":[{"filter":"datum.k==='c'"}],"mark":{"type":"line","color":"#222222","strokeWidth":1.2,"strokeDash":[6,10],"opacity":0.6,"interpolate":"monotone","clip":true},
       "encoding":{"x":{"field":"x","type":"quantitative","axis":{"orient":"top","title":null,"labels":false,"values":[0.0002,0.0003,0.0004,0.0005,0.0006,0.0007,0.0008,0.0009,0.001,0.002,0.003,0.004,0.005,0.006,0.007,0.008,0.009,0.01,0.02,0.03,0.04,0.05,0.06,0.07,0.08,0.09,0.1],"tickSize":{"condition":{"test":"datum.value == 0.001 || datum.value == 0.01 || datum.value == 0.1","value":-12},"value":-6}}},
        "y":{"field":"y","type":"quantitative","axis":{"orient":"right","title":null,"labels":false,"values":[-0.4,-0.3,-0.2,-0.1,0,0.1,0.2,0.3,0.4,0.5,0.6,0.7,0.8,0.9,1,1.1,1.2,1.3,1.4,1.5],"tickSize":{"condition":{"test":"datum.value == 0 || datum.value == 0.5 || datum.value == 1 || datum.value == 1.5","value":-12},"value":-6}}}}},
      {"transform":[{"filter":"datum.k==='p'"}],"mark":{"type":"rule","color":"black","strokeWidth":2,"clip":true},"encoding":{"x":{"field":"x","type":"quantitative","axis":null},"y":{"field":"lo","type":"quantitative","axis":null},"y2":{"field":"hi"}}},
      {"transform":[{"filter":"datum.k==='p'"}],"mark":{"type":"tick","orient":"horizontal","color":"black","size":14,"thickness":2,"clip":true},"encoding":{"x":{"field":"x","type":"quantitative","axis":null},"y":{"field":"slo","type":"quantitative","axis":null}}},
      {"transform":[{"filter":"datum.k==='p'"}],"mark":{"type":"tick","orient":"horizontal","color":"black","size":14,"thickness":2,"clip":true},"encoding":{"x":{"field":"x","type":"quantitative","axis":null},"y":{"field":"shi","type":"quantitative","axis":null}}},
      {"transform":[{"filter":"datum.k==='p'"}],"mark":{"type":"circle","size":100,"opacity":1,"color":"black","clip":true},"encoding":{"x":{"field":"x","type":"quantitative","axis":null},"y":{"field":"y","type":"quantitative","axis":null}}},
      {"transform":[{"filter":"datum.k==='t'"}],"mark":{"type":"text","font":"DejaVu Sans","fontSize":23,"color":"black","align":"center","baseline":"alphabetic"},"encoding":{"x":{"datum":0.0027,"type":"quantitative","axis":null},"y":{"datum":1.25,"type":"quantitative","axis":null},"text":{"field":"label","type":"nominal"}}}
    ]},
    {"width":380.5,"height":213.6,"transform":[{"filter":"datum.q2===90"}],"resolve":{"axis":{"x":"independent","y":"independent"}},"layer":[
      {"transform":[{"filter":"datum.k==='c'"}],"mark":{"type":"line","color":"#f41c1c","strokeWidth":4.5,"interpolate":"monotone","clip":true},
       "encoding":{"x":{"field":"x","type":"quantitative","scale":{"type":"log","domain":[0.0001,0.12],"nice":false},"axis":{"orient":"bottom","title":null,"labels":false,"values":[0.0002,0.0003,0.0004,0.0005,0.0006,0.0007,0.0008,0.0009,0.001,0.002,0.003,0.004,0.005,0.006,0.007,0.008,0.009,0.01,0.02,0.03,0.04,0.05,0.06,0.07,0.08,0.09,0.1],"tickSize":{"condition":{"test":"datum.value == 0.001 || datum.value == 0.01 || datum.value == 0.1","value":-12},"value":-6}}},
        "y":{"field":"y","type":"quantitative","scale":{"domain":[-0.49,1.59],"nice":false,"zero":false},"axis":{"orient":"left","title":null,"labels":false,"values":[-0.4,-0.3,-0.2,-0.1,0,0.1,0.2,0.3,0.4,0.5,0.6,0.7,0.8,0.9,1,1.1,1.2,1.3,1.4,1.5],"tickSize":{"condition":{"test":"datum.value == 0 || datum.value == 0.5 || datum.value == 1 || datum.value == 1.5","value":-12},"value":-6}}}}},
      {"transform":[{"filter":"datum.k==='c'"}],"mark":{"type":"line","color":"#222222","strokeWidth":1.2,"strokeDash":[6,10],"opacity":0.6,"interpolate":"monotone","clip":true},
       "encoding":{"x":{"field":"x","type":"quantitative","axis":{"orient":"top","title":null,"labels":false,"values":[0.0002,0.0003,0.0004,0.0005,0.0006,0.0007,0.0008,0.0009,0.001,0.002,0.003,0.004,0.005,0.006,0.007,0.008,0.009,0.01,0.02,0.03,0.04,0.05,0.06,0.07,0.08,0.09,0.1],"tickSize":{"condition":{"test":"datum.value == 0.001 || datum.value == 0.01 || datum.value == 0.1","value":-12},"value":-6}}},
        "y":{"field":"y","type":"quantitative","axis":{"orient":"right","title":null,"labels":false,"values":[-0.4,-0.3,-0.2,-0.1,0,0.1,0.2,0.3,0.4,0.5,0.6,0.7,0.8,0.9,1,1.1,1.2,1.3,1.4,1.5],"tickSize":{"condition":{"test":"datum.value == 0 || datum.value == 0.5 || datum.value == 1 || datum.value == 1.5","value":-12},"value":-6}}}}},
      {"transform":[{"filter":"datum.k==='p'"}],"mark":{"type":"rule","color":"black","strokeWidth":2,"clip":true},"encoding":{"x":{"field":"x","type":"quantitative","axis":null},"y":{"field":"lo","type":"quantitative","axis":null},"y2":{"field":"hi"}}},
      {"transform":[{"filter":"datum.k==='p'"}],"mark":{"type":"tick","orient":"horizontal","color":"black","size":14,"thickness":2,"clip":true},"encoding":{"x":{"field":"x","type":"quantitative","axis":null},"y":{"field":"slo","type":"quantitative","axis":null}}},
      {"transform":[{"filter":"datum.k==='p'"}],"mark":{"type":"tick","orient":"horizontal","color":"black","size":14,"thickness":2,"clip":true},"encoding":{"x":{"field":"x","type":"quantitative","axis":null},"y":{"field":"shi","type":"quantitative","axis":null}}},
      {"transform":[{"filter":"datum.k==='p'"}],"mark":{"type":"circle","size":100,"opacity":1,"color":"black","clip":true},"encoding":{"x":{"field":"x","type":"quantitative","axis":null},"y":{"field":"y","type":"quantitative","axis":null}}},
      {"transform":[{"filter":"datum.k==='t'"}],"mark":{"type":"text","font":"DejaVu Sans","fontSize":23,"color":"black","align":"center","baseline":"alphabetic"},"encoding":{"x":{"datum":0.0027,"type":"quantitative","axis":null},"y":{"datum":1.25,"type":"quantitative","axis":null},"text":{"field":"label","type":"nominal"}}}
    ]},
    {"width":380.5,"height":213.6,"transform":[{"filter":"datum.q2===120"}],"resolve":{"axis":{"x":"independent","y":"independent"}},"layer":[
      {"transform":[{"filter":"datum.k==='c'"}],"mark":{"type":"line","color":"#f41c1c","strokeWidth":4.5,"interpolate":"monotone","clip":true},
       "encoding":{"x":{"field":"x","type":"quantitative","scale":{"type":"log","domain":[0.0001,0.12],"nice":false},"axis":{"orient":"bottom","title":null,"labels":false,"values":[0.0002,0.0003,0.0004,0.0005,0.0006,0.0007,0.0008,0.0009,0.001,0.002,0.003,0.004,0.005,0.006,0.007,0.008,0.009,0.01,0.02,0.03,0.04,0.05,0.06,0.07,0.08,0.09,0.1],"tickSize":{"condition":{"test":"datum.value == 0.001 || datum.value == 0.01 || datum.value == 0.1","value":-12},"value":-6}}},
        "y":{"field":"y","type":"quantitative","scale":{"domain":[-0.49,1.59],"nice":false,"zero":false},"axis":{"orient":"left","title":null,"values":[-0.4,-0.3,-0.2,-0.1,0,0.1,0.2,0.3,0.4,0.5,0.6,0.7,0.8,0.9,1,1.1,1.2,1.3,1.4,1.5],"tickSize":{"condition":{"test":"datum.value == 0 || datum.value == 0.5 || datum.value == 1 || datum.value == 1.5","value":-12},"value":-6},"labelExpr":"datum.value == 0 ? '0' : datum.value == 0.5 ? '0.5' : datum.value == 1 ? '1' : datum.value == 1.5 ? '1.5' : ''","labelFontSize":28,"labelPadding":20}}}},
      {"transform":[{"filter":"datum.k==='c'"}],"mark":{"type":"line","color":"#222222","strokeWidth":1.2,"strokeDash":[6,10],"opacity":0.6,"interpolate":"monotone","clip":true},
       "encoding":{"x":{"field":"x","type":"quantitative","axis":{"orient":"top","title":null,"labels":false,"values":[0.0002,0.0003,0.0004,0.0005,0.0006,0.0007,0.0008,0.0009,0.001,0.002,0.003,0.004,0.005,0.006,0.007,0.008,0.009,0.01,0.02,0.03,0.04,0.05,0.06,0.07,0.08,0.09,0.1],"tickSize":{"condition":{"test":"datum.value == 0.001 || datum.value == 0.01 || datum.value == 0.1","value":-12},"value":-6}}},
        "y":{"field":"y","type":"quantitative","axis":{"orient":"right","title":null,"labels":false,"values":[-0.4,-0.3,-0.2,-0.1,0,0.1,0.2,0.3,0.4,0.5,0.6,0.7,0.8,0.9,1,1.1,1.2,1.3,1.4,1.5],"tickSize":{"condition":{"test":"datum.value == 0 || datum.value == 0.5 || datum.value == 1 || datum.value == 1.5","value":-12},"value":-6}}}}},
      {"transform":[{"filter":"datum.k==='p'"}],"mark":{"type":"rule","color":"black","strokeWidth":2,"clip":true},"encoding":{"x":{"field":"x","type":"quantitative","axis":null},"y":{"field":"lo","type":"quantitative","axis":null},"y2":{"field":"hi"}}},
      {"transform":[{"filter":"datum.k==='p'"}],"mark":{"type":"tick","orient":"horizontal","color":"black","size":14,"thickness":2,"clip":true},"encoding":{"x":{"field":"x","type":"quantitative","axis":null},"y":{"field":"slo","type":"quantitative","axis":null}}},
      {"transform":[{"filter":"datum.k==='p'"}],"mark":{"type":"tick","orient":"horizontal","color":"black","size":14,"thickness":2,"clip":true},"encoding":{"x":{"field":"x","type":"quantitative","axis":null},"y":{"field":"shi","type":"quantitative","axis":null}}},
      {"transform":[{"filter":"datum.k==='p'"}],"mark":{"type":"circle","size":100,"opacity":1,"color":"black","clip":true},"encoding":{"x":{"field":"x","type":"quantitative","axis":null},"y":{"field":"y","type":"quantitative","axis":null}}},
      {"transform":[{"filter":"datum.k==='t'"}],"mark":{"type":"text","font":"DejaVu Sans","fontSize":23,"color":"black","align":"center","baseline":"alphabetic"},"encoding":{"x":{"datum":0.0027,"type":"quantitative","axis":null},"y":{"datum":1.25,"type":"quantitative","axis":null},"text":{"field":"label","type":"nominal"}}}
    ]},
    {"width":380.5,"height":213.6,"transform":[{"filter":"datum.q2===150"}],"resolve":{"axis":{"x":"independent","y":"independent"}},"layer":[
      {"transform":[{"filter":"datum.k==='c'"}],"mark":{"type":"line","color":"#f41c1c","strokeWidth":4.5,"interpolate":"monotone","clip":true},
       "encoding":{"x":{"field":"x","type":"quantitative","scale":{"type":"log","domain":[0.0001,0.12],"nice":false},"axis":{"orient":"bottom","title":null,"labels":false,"values":[0.0002,0.0003,0.0004,0.0005,0.0006,0.0007,0.0008,0.0009,0.001,0.002,0.003,0.004,0.005,0.006,0.007,0.008,0.009,0.01,0.02,0.03,0.04,0.05,0.06,0.07,0.08,0.09,0.1],"tickSize":{"condition":{"test":"datum.value == 0.001 || datum.value == 0.01 || datum.value == 0.1","value":-12},"value":-6}}},
        "y":{"field":"y","type":"quantitative","scale":{"domain":[-0.49,1.59],"nice":false,"zero":false},"axis":{"orient":"left","title":null,"labels":false,"values":[-0.4,-0.3,-0.2,-0.1,0,0.1,0.2,0.3,0.4,0.5,0.6,0.7,0.8,0.9,1,1.1,1.2,1.3,1.4,1.5],"tickSize":{"condition":{"test":"datum.value == 0 || datum.value == 0.5 || datum.value == 1 || datum.value == 1.5","value":-12},"value":-6}}}}},
      {"transform":[{"filter":"datum.k==='c'"}],"mark":{"type":"line","color":"#222222","strokeWidth":1.2,"strokeDash":[6,10],"opacity":0.6,"interpolate":"monotone","clip":true},
       "encoding":{"x":{"field":"x","type":"quantitative","axis":{"orient":"top","title":null,"labels":false,"values":[0.0002,0.0003,0.0004,0.0005,0.0006,0.0007,0.0008,0.0009,0.001,0.002,0.003,0.004,0.005,0.006,0.007,0.008,0.009,0.01,0.02,0.03,0.04,0.05,0.06,0.07,0.08,0.09,0.1],"tickSize":{"condition":{"test":"datum.value == 0.001 || datum.value == 0.01 || datum.value == 0.1","value":-12},"value":-6}}},
        "y":{"field":"y","type":"quantitative","axis":{"orient":"right","title":null,"labels":false,"values":[-0.4,-0.3,-0.2,-0.1,0,0.1,0.2,0.3,0.4,0.5,0.6,0.7,0.8,0.9,1,1.1,1.2,1.3,1.4,1.5],"tickSize":{"condition":{"test":"datum.value == 0 || datum.value == 0.5 || datum.value == 1 || datum.value == 1.5","value":-12},"value":-6}}}}},
      {"transform":[{"filter":"datum.k==='p'"}],"mark":{"type":"rule","color":"black","strokeWidth":2,"clip":true},"encoding":{"x":{"field":"x","type":"quantitative","axis":null},"y":{"field":"lo","type":"quantitative","axis":null},"y2":{"field":"hi"}}},
      {"transform":[{"filter":"datum.k==='p'"}],"mark":{"type":"tick","orient":"horizontal","color":"black","size":14,"thickness":2,"clip":true},"encoding":{"x":{"field":"x","type":"quantitative","axis":null},"y":{"field":"slo","type":"quantitative","axis":null}}},
      {"transform":[{"filter":"datum.k==='p'"}],"mark":{"type":"tick","orient":"horizontal","color":"black","size":14,"thickness":2,"clip":true},"encoding":{"x":{"field":"x","type":"quantitative","axis":null},"y":{"field":"shi","type":"quantitative","axis":null}}},
      {"transform":[{"filter":"datum.k==='p'"}],"mark":{"type":"circle","size":100,"opacity":1,"color":"black","clip":true},"encoding":{"x":{"field":"x","type":"quantitative","axis":null},"y":{"field":"y","type":"quantitative","axis":null}}},
      {"transform":[{"filter":"datum.k==='t'"}],"mark":{"type":"text","font":"DejaVu Sans","fontSize":23,"color":"black","align":"center","baseline":"alphabetic"},"encoding":{"x":{"datum":0.0027,"type":"quantitative","axis":null},"y":{"datum":1.25,"type":"quantitative","axis":null},"text":{"field":"label","type":"nominal"}}}
    ]},
    {"width":380.5,"height":213.6,"transform":[{"filter":"datum.q2===200"}],"resolve":{"axis":{"x":"independent","y":"independent"}},"layer":[
      {"transform":[{"filter":"datum.k==='c'"}],"mark":{"type":"line","color":"#f41c1c","strokeWidth":4.5,"interpolate":"monotone","clip":true},
       "encoding":{"x":{"field":"x","type":"quantitative","scale":{"type":"log","domain":[0.0001,0.12],"nice":false},"axis":{"orient":"bottom","title":null,"labels":false,"values":[0.0002,0.0003,0.0004,0.0005,0.0006,0.0007,0.0008,0.0009,0.001,0.002,0.003,0.004,0.005,0.006,0.007,0.008,0.009,0.01,0.02,0.03,0.04,0.05,0.06,0.07,0.08,0.09,0.1],"tickSize":{"condition":{"test":"datum.value == 0.001 || datum.value == 0.01 || datum.value == 0.1","value":-12},"value":-6}}},
        "y":{"field":"y","type":"quantitative","scale":{"domain":[-0.49,1.59],"nice":false,"zero":false},"axis":{"orient":"left","title":null,"labels":false,"values":[-0.4,-0.3,-0.2,-0.1,0,0.1,0.2,0.3,0.4,0.5,0.6,0.7,0.8,0.9,1,1.1,1.2,1.3,1.4,1.5],"tickSize":{"condition":{"test":"datum.value == 0 || datum.value == 0.5 || datum.value == 1 || datum.value == 1.5","value":-12},"value":-6}}}}},
      {"transform":[{"filter":"datum.k==='c'"}],"mark":{"type":"line","color":"#222222","strokeWidth":1.2,"strokeDash":[6,10],"opacity":0.6,"interpolate":"monotone","clip":true},
       "encoding":{"x":{"field":"x","type":"quantitative","axis":{"orient":"top","title":null,"labels":false,"values":[0.0002,0.0003,0.0004,0.0005,0.0006,0.0007,0.0008,0.0009,0.001,0.002,0.003,0.004,0.005,0.006,0.007,0.008,0.009,0.01,0.02,0.03,0.04,0.05,0.06,0.07,0.08,0.09,0.1],"tickSize":{"condition":{"test":"datum.value == 0.001 || datum.value == 0.01 || datum.value == 0.1","value":-12},"value":-6}}},
        "y":{"field":"y","type":"quantitative","axis":{"orient":"right","title":null,"labels":false,"values":[-0.4,-0.3,-0.2,-0.1,0,0.1,0.2,0.3,0.4,0.5,0.6,0.7,0.8,0.9,1,1.1,1.2,1.3,1.4,1.5],"tickSize":{"condition":{"test":"datum.value == 0 || datum.value == 0.5 || datum.value == 1 || datum.value == 1.5","value":-12},"value":-6}}}}},
      {"transform":[{"filter":"datum.k==='p'"}],"mark":{"type":"rule","color":"black","strokeWidth":2,"clip":true},"encoding":{"x":{"field":"x","type":"quantitative","axis":null},"y":{"field":"lo","type":"quantitative","axis":null},"y2":{"field":"hi"}}},
      {"transform":[{"filter":"datum.k==='p'"}],"mark":{"type":"tick","orient":"horizontal","color":"black","size":14,"thickness":2,"clip":true},"encoding":{"x":{"field":"x","type":"quantitative","axis":null},"y":{"field":"slo","type":"quantitative","axis":null}}},
      {"transform":[{"filter":"datum.k==='p'"}],"mark":{"type":"tick","orient":"horizontal","color":"black","size":14,"thickness":2,"clip":true},"encoding":{"x":{"field":"x","type":"quantitative","axis":null},"y":{"field":"shi","type":"quantitative","axis":null}}},
      {"transform":[{"filter":"datum.k==='p'"}],"mark":{"type":"circle","size":100,"opacity":1,"color":"black","clip":true},"encoding":{"x":{"field":"x","type":"quantitative","axis":null},"y":{"field":"y","type":"quantitative","axis":null}}},
      {"transform":[{"filter":"datum.k==='t'"}],"mark":{"type":"text","font":"DejaVu Sans","fontSize":23,"color":"black","align":"center","baseline":"alphabetic"},"encoding":{"x":{"datum":0.0027,"type":"quantitative","axis":null},"y":{"datum":1.25,"type":"quantitative","axis":null},"text":{"field":"label","type":"nominal"}}}
    ]},
    {"width":380.5,"height":213.6,"transform":[{"filter":"datum.q2===250"}],"resolve":{"axis":{"x":"independent","y":"independent"}},"layer":[
      {"transform":[{"filter":"datum.k==='c'"}],"mark":{"type":"line","color":"#f41c1c","strokeWidth":4.5,"interpolate":"monotone","clip":true},
       "encoding":{"x":{"field":"x","type":"quantitative","scale":{"type":"log","domain":[0.0001,0.12],"nice":false},"axis":{"orient":"bottom","title":null,"labels":false,"values":[0.0002,0.0003,0.0004,0.0005,0.0006,0.0007,0.0008,0.0009,0.001,0.002,0.003,0.004,0.005,0.006,0.007,0.008,0.009,0.01,0.02,0.03,0.04,0.05,0.06,0.07,0.08,0.09,0.1],"tickSize":{"condition":{"test":"datum.value == 0.001 || datum.value == 0.01 || datum.value == 0.1","value":-12},"value":-6}}},
        "y":{"field":"y","type":"quantitative","scale":{"domain":[-0.49,1.59],"nice":false,"zero":false},"axis":{"orient":"left","title":null,"labels":false,"values":[-0.4,-0.3,-0.2,-0.1,0,0.1,0.2,0.3,0.4,0.5,0.6,0.7,0.8,0.9,1,1.1,1.2,1.3,1.4,1.5],"tickSize":{"condition":{"test":"datum.value == 0 || datum.value == 0.5 || datum.value == 1 || datum.value == 1.5","value":-12},"value":-6}}}}},
      {"transform":[{"filter":"datum.k==='c'"}],"mark":{"type":"line","color":"#222222","strokeWidth":1.2,"strokeDash":[6,10],"opacity":0.6,"interpolate":"monotone","clip":true},
       "encoding":{"x":{"field":"x","type":"quantitative","axis":{"orient":"top","title":null,"labels":false,"values":[0.0002,0.0003,0.0004,0.0005,0.0006,0.0007,0.0008,0.0009,0.001,0.002,0.003,0.004,0.005,0.006,0.007,0.008,0.009,0.01,0.02,0.03,0.04,0.05,0.06,0.07,0.08,0.09,0.1],"tickSize":{"condition":{"test":"datum.value == 0.001 || datum.value == 0.01 || datum.value == 0.1","value":-12},"value":-6}}},
        "y":{"field":"y","type":"quantitative","axis":{"orient":"right","title":null,"labels":false,"values":[-0.4,-0.3,-0.2,-0.1,0,0.1,0.2,0.3,0.4,0.5,0.6,0.7,0.8,0.9,1,1.1,1.2,1.3,1.4,1.5],"tickSize":{"condition":{"test":"datum.value == 0 || datum.value == 0.5 || datum.value == 1 || datum.value == 1.5","value":-12},"value":-6}}}}},
      {"transform":[{"filter":"datum.k==='p'"}],"mark":{"type":"rule","color":"black","strokeWidth":2,"clip":true},"encoding":{"x":{"field":"x","type":"quantitative","axis":null},"y":{"field":"lo","type":"quantitative","axis":null},"y2":{"field":"hi"}}},
      {"transform":[{"filter":"datum.k==='p'"}],"mark":{"type":"tick","orient":"horizontal","color":"black","size":14,"thickness":2,"clip":true},"encoding":{"x":{"field":"x","type":"quantitative","axis":null},"y":{"field":"slo","type":"quantitative","axis":null}}},
      {"transform":[{"filter":"datum.k==='p'"}],"mark":{"type":"tick","orient":"horizontal","color":"black","size":14,"thickness":2,"clip":true},"encoding":{"x":{"field":"x","type":"quantitative","axis":null},"y":{"field":"shi","type":"quantitative","axis":null}}},
      {"transform":[{"filter":"datum.k==='p'"}],"mark":{"type":"circle","size":100,"opacity":1,"color":"black","clip":true},"encoding":{"x":{"field":"x","type":"quantitative","axis":null},"y":{"field":"y","type":"quantitative","axis":null}}},
      {"transform":[{"filter":"datum.k==='t'"}],"mark":{"type":"text","font":"DejaVu Sans","fontSize":23,"color":"black","align":"center","baseline":"alphabetic"},"encoding":{"x":{"datum":0.0027,"type":"quantitative","axis":null},"y":{"datum":1.25,"type":"quantitative","axis":null},"text":{"field":"label","type":"nominal"}}}
    ]},
    {"width":380.5,"height":213.6,"transform":[{"filter":"datum.q2===300"}],"resolve":{"axis":{"x":"independent","y":"independent"}},"layer":[
      {"transform":[{"filter":"datum.k==='c'"}],"mark":{"type":"line","color":"#f41c1c","strokeWidth":4.5,"interpolate":"monotone","clip":true},
       "encoding":{"x":{"field":"x","type":"quantitative","scale":{"type":"log","domain":[0.0001,0.12],"nice":false},"axis":{"orient":"bottom","title":null,"labels":false,"values":[0.0002,0.0003,0.0004,0.0005,0.0006,0.0007,0.0008,0.0009,0.001,0.002,0.003,0.004,0.005,0.006,0.007,0.008,0.009,0.01,0.02,0.03,0.04,0.05,0.06,0.07,0.08,0.09,0.1],"tickSize":{"condition":{"test":"datum.value == 0.001 || datum.value == 0.01 || datum.value == 0.1","value":-12},"value":-6}}},
        "y":{"field":"y","type":"quantitative","scale":{"domain":[-0.49,1.59],"nice":false,"zero":false},"axis":{"orient":"left","title":null,"values":[-0.4,-0.3,-0.2,-0.1,0,0.1,0.2,0.3,0.4,0.5,0.6,0.7,0.8,0.9,1,1.1,1.2,1.3,1.4,1.5],"tickSize":{"condition":{"test":"datum.value == 0 || datum.value == 0.5 || datum.value == 1 || datum.value == 1.5","value":-12},"value":-6},"labelExpr":"datum.value == 0 ? '0' : datum.value == 0.5 ? '0.5' : datum.value == 1 ? '1' : datum.value == 1.5 ? '1.5' : ''","labelFontSize":28,"labelPadding":20}}}},
      {"transform":[{"filter":"datum.k==='c'"}],"mark":{"type":"line","color":"#222222","strokeWidth":1.2,"strokeDash":[6,10],"opacity":0.6,"interpolate":"monotone","clip":true},
       "encoding":{"x":{"field":"x","type":"quantitative","axis":{"orient":"top","title":null,"labels":false,"values":[0.0002,0.0003,0.0004,0.0005,0.0006,0.0007,0.0008,0.0009,0.001,0.002,0.003,0.004,0.005,0.006,0.007,0.008,0.009,0.01,0.02,0.03,0.04,0.05,0.06,0.07,0.08,0.09,0.1],"tickSize":{"condition":{"test":"datum.value == 0.001 || datum.value == 0.01 || datum.value == 0.1","value":-12},"value":-6}}},
        "y":{"field":"y","type":"quantitative","axis":{"orient":"right","title":null,"labels":false,"values":[-0.4,-0.3,-0.2,-0.1,0,0.1,0.2,0.3,0.4,0.5,0.6,0.7,0.8,0.9,1,1.1,1.2,1.3,1.4,1.5],"tickSize":{"condition":{"test":"datum.value == 0 || datum.value == 0.5 || datum.value == 1 || datum.value == 1.5","value":-12},"value":-6}}}}},
      {"transform":[{"filter":"datum.k==='p'"}],"mark":{"type":"rule","color":"black","strokeWidth":2,"clip":true},"encoding":{"x":{"field":"x","type":"quantitative","axis":null},"y":{"field":"lo","type":"quantitative","axis":null},"y2":{"field":"hi"}}},
      {"transform":[{"filter":"datum.k==='p'"}],"mark":{"type":"tick","orient":"horizontal","color":"black","size":14,"thickness":2,"clip":true},"encoding":{"x":{"field":"x","type":"quantitative","axis":null},"y":{"field":"slo","type":"quantitative","axis":null}}},
      {"transform":[{"filter":"datum.k==='p'"}],"mark":{"type":"tick","orient":"horizontal","color":"black","size":14,"thickness":2,"clip":true},"encoding":{"x":{"field":"x","type":"quantitative","axis":null},"y":{"field":"shi","type":"quantitative","axis":null}}},
      {"transform":[{"filter":"datum.k==='p'"}],"mark":{"type":"circle","size":100,"opacity":1,"color":"black","clip":true},"encoding":{"x":{"field":"x","type":"quantitative","axis":null},"y":{"field":"y","type":"quantitative","axis":null}}},
      {"transform":[{"filter":"datum.k==='t'"}],"mark":{"type":"text","font":"DejaVu Sans","fontSize":23,"color":"black","align":"center","baseline":"alphabetic"},"encoding":{"x":{"datum":0.0027,"type":"quantitative","axis":null},"y":{"datum":1.25,"type":"quantitative","axis":null},"text":{"field":"label","type":"nominal"}}}
    ]},
    {"width":380.5,"height":213.6,"transform":[{"filter":"datum.q2===400"}],"resolve":{"axis":{"x":"independent","y":"independent"}},"layer":[
      {"transform":[{"filter":"datum.k==='c'"}],"mark":{"type":"line","color":"#f41c1c","strokeWidth":4.5,"interpolate":"monotone","clip":true},
       "encoding":{"x":{"field":"x","type":"quantitative","scale":{"type":"log","domain":[0.0001,0.12],"nice":false},"axis":{"orient":"bottom","title":null,"values":[0.0002,0.0003,0.0004,0.0005,0.0006,0.0007,0.0008,0.0009,0.001,0.002,0.003,0.004,0.005,0.006,0.007,0.008,0.009,0.01,0.02,0.03,0.04,0.05,0.06,0.07,0.08,0.09,0.1],"tickSize":{"condition":{"test":"datum.value == 0.001 || datum.value == 0.01 || datum.value == 0.1","value":-12},"value":-6},"labelExpr":"datum.value == 0.001 ? '10⁻³' : datum.value == 0.01 ? '10⁻²' : datum.value == 0.1 ? '10⁻¹' : ''","labelFontSize":29,"labelPadding":37}},
        "y":{"field":"y","type":"quantitative","scale":{"domain":[-0.49,1.59],"nice":false,"zero":false},"axis":{"orient":"left","title":null,"labels":false,"values":[-0.4,-0.3,-0.2,-0.1,0,0.1,0.2,0.3,0.4,0.5,0.6,0.7,0.8,0.9,1,1.1,1.2,1.3,1.4,1.5],"tickSize":{"condition":{"test":"datum.value == 0 || datum.value == 0.5 || datum.value == 1 || datum.value == 1.5","value":-12},"value":-6}}}}},
      {"transform":[{"filter":"datum.k==='c'"}],"mark":{"type":"line","color":"#222222","strokeWidth":1.2,"strokeDash":[6,10],"opacity":0.6,"interpolate":"monotone","clip":true},
       "encoding":{"x":{"field":"x","type":"quantitative","axis":{"orient":"top","title":null,"labels":false,"values":[0.0002,0.0003,0.0004,0.0005,0.0006,0.0007,0.0008,0.0009,0.001,0.002,0.003,0.004,0.005,0.006,0.007,0.008,0.009,0.01,0.02,0.03,0.04,0.05,0.06,0.07,0.08,0.09,0.1],"tickSize":{"condition":{"test":"datum.value == 0.001 || datum.value == 0.01 || datum.value == 0.1","value":-12},"value":-6}}},
        "y":{"field":"y","type":"quantitative","axis":{"orient":"right","title":null,"labels":false,"values":[-0.4,-0.3,-0.2,-0.1,0,0.1,0.2,0.3,0.4,0.5,0.6,0.7,0.8,0.9,1,1.1,1.2,1.3,1.4,1.5],"tickSize":{"condition":{"test":"datum.value == 0 || datum.value == 0.5 || datum.value == 1 || datum.value == 1.5","value":-12},"value":-6}}}}},
      {"transform":[{"filter":"datum.k==='p'"}],"mark":{"type":"rule","color":"black","strokeWidth":2,"clip":true},"encoding":{"x":{"field":"x","type":"quantitative","axis":null},"y":{"field":"lo","type":"quantitative","axis":null},"y2":{"field":"hi"}}},
      {"transform":[{"filter":"datum.k==='p'"}],"mark":{"type":"tick","orient":"horizontal","color":"black","size":14,"thickness":2,"clip":true},"encoding":{"x":{"field":"x","type":"quantitative","axis":null},"y":{"field":"slo","type":"quantitative","axis":null}}},
      {"transform":[{"filter":"datum.k==='p'"}],"mark":{"type":"tick","orient":"horizontal","color":"black","size":14,"thickness":2,"clip":true},"encoding":{"x":{"field":"x","type":"quantitative","axis":null},"y":{"field":"shi","type":"quantitative","axis":null}}},
      {"transform":[{"filter":"datum.k==='p'"}],"mark":{"type":"circle","size":100,"opacity":1,"color":"black","clip":true},"encoding":{"x":{"field":"x","type":"quantitative","axis":null},"y":{"field":"y","type":"quantitative","axis":null}}},
      {"transform":[{"filter":"datum.k==='t'"}],"mark":{"type":"text","font":"DejaVu Sans","fontSize":23,"color":"black","align":"center","baseline":"alphabetic"},"encoding":{"x":{"datum":0.0027,"type":"quantitative","axis":null},"y":{"datum":1.25,"type":"quantitative","axis":null},"text":{"field":"label","type":"nominal"}}}
    ]},
    {"width":380.5,"height":213.6,"transform":[{"filter":"datum.q2===500"}],"resolve":{"axis":{"x":"independent","y":"independent"}},"layer":[
      {"transform":[{"filter":"datum.k==='c'"}],"mark":{"type":"line","color":"#f41c1c","strokeWidth":4.5,"interpolate":"monotone","clip":true},
       "encoding":{"x":{"field":"x","type":"quantitative","scale":{"type":"log","domain":[0.0001,0.12],"nice":false},"axis":{"orient":"bottom","title":null,"values":[0.0002,0.0003,0.0004,0.0005,0.0006,0.0007,0.0008,0.0009,0.001,0.002,0.003,0.004,0.005,0.006,0.007,0.008,0.009,0.01,0.02,0.03,0.04,0.05,0.06,0.07,0.08,0.09,0.1],"tickSize":{"condition":{"test":"datum.value == 0.001 || datum.value == 0.01 || datum.value == 0.1","value":-12},"value":-6},"labelExpr":"datum.value == 0.001 ? '10⁻³' : datum.value == 0.01 ? '10⁻²' : datum.value == 0.1 ? '10⁻¹' : ''","labelFontSize":29,"labelPadding":37}},
        "y":{"field":"y","type":"quantitative","scale":{"domain":[-0.49,1.59],"nice":false,"zero":false},"axis":{"orient":"left","title":null,"labels":false,"values":[-0.4,-0.3,-0.2,-0.1,0,0.1,0.2,0.3,0.4,0.5,0.6,0.7,0.8,0.9,1,1.1,1.2,1.3,1.4,1.5],"tickSize":{"condition":{"test":"datum.value == 0 || datum.value == 0.5 || datum.value == 1 || datum.value == 1.5","value":-12},"value":-6}}}}},
      {"transform":[{"filter":"datum.k==='c'"}],"mark":{"type":"line","color":"#222222","strokeWidth":1.2,"strokeDash":[6,10],"opacity":0.6,"interpolate":"monotone","clip":true},
       "encoding":{"x":{"field":"x","type":"quantitative","axis":{"orient":"top","title":null,"labels":false,"values":[0.0002,0.0003,0.0004,0.0005,0.0006,0.0007,0.0008,0.0009,0.001,0.002,0.003,0.004,0.005,0.006,0.007,0.008,0.009,0.01,0.02,0.03,0.04,0.05,0.06,0.07,0.08,0.09,0.1],"tickSize":{"condition":{"test":"datum.value == 0.001 || datum.value == 0.01 || datum.value == 0.1","value":-12},"value":-6}}},
        "y":{"field":"y","type":"quantitative","axis":{"orient":"right","title":null,"labels":false,"values":[-0.4,-0.3,-0.2,-0.1,0,0.1,0.2,0.3,0.4,0.5,0.6,0.7,0.8,0.9,1,1.1,1.2,1.3,1.4,1.5],"tickSize":{"condition":{"test":"datum.value == 0 || datum.value == 0.5 || datum.value == 1 || datum.value == 1.5","value":-12},"value":-6}}}}},
      {"transform":[{"filter":"datum.k==='p'"}],"mark":{"type":"rule","color":"black","strokeWidth":2,"clip":true},"encoding":{"x":{"field":"x","type":"quantitative","axis":null},"y":{"field":"lo","type":"quantitative","axis":null},"y2":{"field":"hi"}}},
      {"transform":[{"filter":"datum.k==='p'"}],"mark":{"type":"tick","orient":"horizontal","color":"black","size":14,"thickness":2,"clip":true},"encoding":{"x":{"field":"x","type":"quantitative","axis":null},"y":{"field":"slo","type":"quantitative","axis":null}}},
      {"transform":[{"filter":"datum.k==='p'"}],"mark":{"type":"tick","orient":"horizontal","color":"black","size":14,"thickness":2,"clip":true},"encoding":{"x":{"field":"x","type":"quantitative","axis":null},"y":{"field":"shi","type":"quantitative","axis":null}}},
      {"transform":[{"filter":"datum.k==='p'"}],"mark":{"type":"circle","size":100,"opacity":1,"color":"black","clip":true},"encoding":{"x":{"field":"x","type":"quantitative","axis":null},"y":{"field":"y","type":"quantitative","axis":null}}},
      {"transform":[{"filter":"datum.k==='t'"}],"mark":{"type":"text","font":"DejaVu Sans","fontSize":23,"color":"black","align":"center","baseline":"alphabetic"},"encoding":{"x":{"datum":0.0027,"type":"quantitative","axis":null},"y":{"datum":1.25,"type":"quantitative","axis":null},"text":{"field":"label","type":"nominal"}}},
      {"transform":[{"filter":"datum.k==='a'"}],"mark":{"type":"text","font":"DejaVu Sans","fontSize":26,"color":"#9a9a9a","align":"center","baseline":"middle"},"encoding":{"x":{"field":"x","type":"quantitative","axis":null},"y":{"field":"y","type":"quantitative","axis":null},"text":{"value":"↓"}}}
    ]},
    {"width":380.5,"height":213.6,"transform":[{"filter":"datum.q2===650"}],"resolve":{"axis":{"x":"independent","y":"independent"}},"layer":[
      {"transform":[{"filter":"datum.k==='c'"}],"mark":{"type":"line","color":"#f41c1c","strokeWidth":4.5,"interpolate":"monotone","clip":true},
       "encoding":{"x":{"field":"x","type":"quantitative","scale":{"type":"log","domain":[0.0001,0.12],"nice":false},"axis":{"orient":"bottom","title":null,"values":[0.0002,0.0003,0.0004,0.0005,0.0006,0.0007,0.0008,0.0009,0.001,0.002,0.003,0.004,0.005,0.006,0.007,0.008,0.009,0.01,0.02,0.03,0.04,0.05,0.06,0.07,0.08,0.09,0.1],"tickSize":{"condition":{"test":"datum.value == 0.001 || datum.value == 0.01 || datum.value == 0.1","value":-12},"value":-6},"labelExpr":"datum.value == 0.001 ? '10⁻³' : datum.value == 0.01 ? '10⁻²' : datum.value == 0.1 ? '10⁻¹' : ''","labelFontSize":29,"labelPadding":37}},
        "y":{"field":"y","type":"quantitative","scale":{"domain":[-0.49,1.59],"nice":false,"zero":false},"axis":{"orient":"left","title":null,"labels":false,"values":[-0.4,-0.3,-0.2,-0.1,0,0.1,0.2,0.3,0.4,0.5,0.6,0.7,0.8,0.9,1,1.1,1.2,1.3,1.4,1.5],"tickSize":{"condition":{"test":"datum.value == 0 || datum.value == 0.5 || datum.value == 1 || datum.value == 1.5","value":-12},"value":-6}}}}},
      {"transform":[{"filter":"datum.k==='c'"}],"mark":{"type":"line","color":"#222222","strokeWidth":1.2,"strokeDash":[6,10],"opacity":0.6,"interpolate":"monotone","clip":true},
       "encoding":{"x":{"field":"x","type":"quantitative","axis":{"orient":"top","title":null,"labels":false,"values":[0.0002,0.0003,0.0004,0.0005,0.0006,0.0007,0.0008,0.0009,0.001,0.002,0.003,0.004,0.005,0.006,0.007,0.008,0.009,0.01,0.02,0.03,0.04,0.05,0.06,0.07,0.08,0.09,0.1],"tickSize":{"condition":{"test":"datum.value == 0.001 || datum.value == 0.01 || datum.value == 0.1","value":-12},"value":-6}}},
        "y":{"field":"y","type":"quantitative","axis":{"orient":"right","title":null,"labels":false,"values":[-0.4,-0.3,-0.2,-0.1,0,0.1,0.2,0.3,0.4,0.5,0.6,0.7,0.8,0.9,1,1.1,1.2,1.3,1.4,1.5],"tickSize":{"condition":{"test":"datum.value == 0 || datum.value == 0.5 || datum.value == 1 || datum.value == 1.5","value":-12},"value":-6}}}}},
      {"transform":[{"filter":"datum.k==='p'"}],"mark":{"type":"rule","color":"black","strokeWidth":2,"clip":true},"encoding":{"x":{"field":"x","type":"quantitative","axis":null},"y":{"field":"lo","type":"quantitative","axis":null},"y2":{"field":"hi"}}},
      {"transform":[{"filter":"datum.k==='p'"}],"mark":{"type":"tick","orient":"horizontal","color":"black","size":14,"thickness":2,"clip":true},"encoding":{"x":{"field":"x","type":"quantitative","axis":null},"y":{"field":"slo","type":"quantitative","axis":null}}},
      {"transform":[{"filter":"datum.k==='p'"}],"mark":{"type":"tick","orient":"horizontal","color":"black","size":14,"thickness":2,"clip":true},"encoding":{"x":{"field":"x","type":"quantitative","axis":null},"y":{"field":"shi","type":"quantitative","axis":null}}},
      {"transform":[{"filter":"datum.k==='p'"}],"mark":{"type":"circle","size":100,"opacity":1,"color":"black","clip":true},"encoding":{"x":{"field":"x","type":"quantitative","axis":null},"y":{"field":"y","type":"quantitative","axis":null}}},
      {"transform":[{"filter":"datum.k==='t'"}],"mark":{"type":"text","font":"DejaVu Sans","fontSize":23,"color":"black","align":"center","baseline":"alphabetic"},"encoding":{"x":{"datum":0.0027,"type":"quantitative","axis":null},"y":{"datum":1.25,"type":"quantitative","axis":null},"text":{"field":"label","type":"nominal"}}}
    ]},
    {"width":380.5,"height":213.6,"transform":[{"filter":"datum.q2===800"}],"resolve":{"axis":{"x":"independent","y":"independent"}},"layer":[
      {"transform":[{"filter":"datum.k==='c'"}],"mark":{"type":"line","color":"#f41c1c","strokeWidth":4.5,"interpolate":"monotone","clip":true},
       "encoding":{"x":{"field":"x","type":"quantitative","scale":{"type":"log","domain":[0.0001,0.12],"nice":false},"axis":{"orient":"bottom","title":null,"values":[0.0002,0.0003,0.0004,0.0005,0.0006,0.0007,0.0008,0.0009,0.001,0.002,0.003,0.004,0.005,0.006,0.007,0.008,0.009,0.01,0.02,0.03,0.04,0.05,0.06,0.07,0.08,0.09,0.1],"tickSize":{"condition":{"test":"datum.value == 0.001 || datum.value == 0.01 || datum.value == 0.1","value":-12},"value":-6},"labelExpr":"datum.value == 0.001 ? '10⁻³' : datum.value == 0.01 ? '10⁻²' : datum.value == 0.1 ? '10⁻¹' : ''","labelFontSize":29,"labelPadding":37}},
        "y":{"field":"y","type":"quantitative","scale":{"domain":[-0.49,1.59],"nice":false,"zero":false},"axis":{"orient":"left","title":null,"values":[-0.4,-0.3,-0.2,-0.1,0,0.1,0.2,0.3,0.4,0.5,0.6,0.7,0.8,0.9,1,1.1,1.2,1.3,1.4,1.5],"tickSize":{"condition":{"test":"datum.value == 0 || datum.value == 0.5 || datum.value == 1 || datum.value == 1.5","value":-12},"value":-6},"labelExpr":"datum.value == 0 ? '0' : datum.value == 0.5 ? '0.5' : datum.value == 1 ? '1' : datum.value == 1.5 ? '1.5' : ''","labelFontSize":28,"labelPadding":20}},
        "stroke":{"datum":"H1 PDF 2000","type":"nominal","scale":{"domain":["H1 PDF 2000"],"range":["#f41c1c"]},
          "legend":{"title":"Eₚ = 460, 575, 920 GeV","orient":"none","legendX":827,"legendY":1026,"titleFont":"DejaVu Sans","titleFontWeight":"bold","titleFontSize":25,"titleColor":"black","titleLimit":700,"titlePadding":31,"titleAnchor":"start",
            "labelFont":"DejaVu Sans","labelFontWeight":"bold","labelFontSize":30,"labelColor":"black","labelLimit":700,"labelOffset":35,
            "symbolType":"stroke","symbolSize":2900,"symbolStrokeWidth":4.5,"symbolStrokeColor":"#f41c1c"}}}},
      {"transform":[{"filter":"datum.k==='c'"}],"mark":{"type":"line","color":"#222222","strokeWidth":1.2,"strokeDash":[6,10],"opacity":0.6,"interpolate":"monotone","clip":true},
       "encoding":{"x":{"field":"x","type":"quantitative","axis":{"orient":"top","title":null,"labels":false,"values":[0.0002,0.0003,0.0004,0.0005,0.0006,0.0007,0.0008,0.0009,0.001,0.002,0.003,0.004,0.005,0.006,0.007,0.008,0.009,0.01,0.02,0.03,0.04,0.05,0.06,0.07,0.08,0.09,0.1],"tickSize":{"condition":{"test":"datum.value == 0.001 || datum.value == 0.01 || datum.value == 0.1","value":-12},"value":-6}}},
        "y":{"field":"y","type":"quantitative","axis":{"orient":"right","title":null,"labels":false,"values":[-0.4,-0.3,-0.2,-0.1,0,0.1,0.2,0.3,0.4,0.5,0.6,0.7,0.8,0.9,1,1.1,1.2,1.3,1.4,1.5],"tickSize":{"condition":{"test":"datum.value == 0 || datum.value == 0.5 || datum.value == 1 || datum.value == 1.5","value":-12},"value":-6}}}}},
      {"transform":[{"filter":"datum.k==='p'"}],"mark":{"type":"rule","color":"black","strokeWidth":2,"clip":true},"encoding":{"x":{"field":"x","type":"quantitative","axis":null},"y":{"field":"lo","type":"quantitative","axis":null},"y2":{"field":"hi"}}},
      {"transform":[{"filter":"datum.k==='p'"}],"mark":{"type":"tick","orient":"horizontal","color":"black","size":14,"thickness":2,"clip":true},"encoding":{"x":{"field":"x","type":"quantitative","axis":null},"y":{"field":"slo","type":"quantitative","axis":null}}},
      {"transform":[{"filter":"datum.k==='p'"}],"mark":{"type":"tick","orient":"horizontal","color":"black","size":14,"thickness":2,"clip":true},"encoding":{"x":{"field":"x","type":"quantitative","axis":null},"y":{"field":"shi","type":"quantitative","axis":null}}},
      {"transform":[{"filter":"datum.k==='p'"}],"mark":{"type":"circle","size":100,"opacity":1,"clip":true},"encoding":{"x":{"field":"x","type":"quantitative","axis":null},"y":{"field":"y","type":"quantitative","axis":null},
        "color":{"datum":"H1 (Prelim.)","type":"nominal","scale":{"domain":["H1 (Prelim.)"],"range":["black"]},
          "legend":{"title":null,"orient":"none","legendX":841,"legendY":981,"labelFont":"DejaVu Sans","labelFontWeight":"bold","labelFontSize":30,"labelColor":"black","labelLimit":700,"symbolSize":576,"labelOffset":51,"symbolOpacity":1}}}},
      {"transform":[{"filter":"datum.k==='t'"}],"mark":{"type":"text","font":"DejaVu Sans","fontSize":23,"color":"black","align":"center","baseline":"alphabetic"},"encoding":{"x":{"datum":0.0027,"type":"quantitative","axis":null},"y":{"datum":1.25,"type":"quantitative","axis":null},"text":{"field":"label","type":"nominal"}}}
    ]}
  ],
  "config": {
    "view": {"stroke": "black", "strokeWidth": 2},
    "font": "DejaVu Sans",
    "axis": {"grid": false, "domain": false, "tickColor": "black", "tickWidth": 1.5, "tickSize": -7, "labelFont": "DejaVu Sans", "labelFontWeight": "bold", "labelColor": "black", "labelOverlap": false, "labelFlush": false}
  }
}
